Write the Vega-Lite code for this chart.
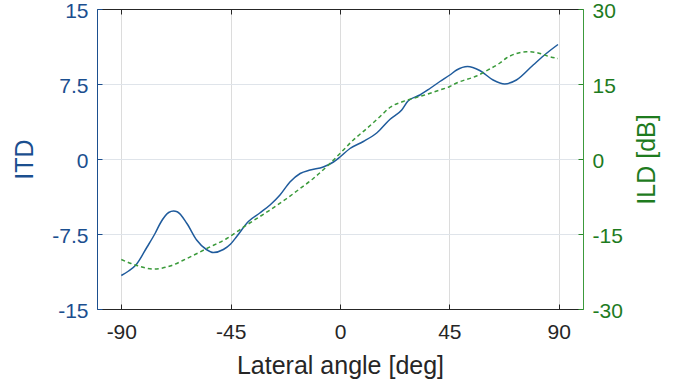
{
  "$schema": "https://vega.github.io/schema/vega-lite/v6.json",
  "width": 486,
  "height": 300,
  "autosize": {"type": "none"},
  "padding": {"left": 97, "top": 9, "right": 108, "bottom": 77},
  "background": "white",
  "config": {
    "view": {"stroke": null},
    "font": "Liberation Sans",
    "axis": {"labelFont": "Liberation Sans", "titleFont": "Liberation Sans", "titleFontWeight": "normal", "labelFontSize": 21, "titleFontSize": 25}
  },
  "datasets": {
    "itd": [
      {"angle": -90, "v": -11.65}, {"angle": -87, "v": -11.2}, {"angle": -84, "v": -10.6},
      {"angle": -79.4, "v": -8.8}, {"angle": -76, "v": -7.4}, {"angle": -73.9, "v": -6.4},
      {"angle": -70.5, "v": -5.35}, {"angle": -68.5, "v": -5.2}, {"angle": -67, "v": -5.27},
      {"angle": -63, "v": -6.45}, {"angle": -59, "v": -8.1}, {"angle": -55, "v": -9.05},
      {"angle": -52.1, "v": -9.35}, {"angle": -48, "v": -9.05}, {"angle": -45, "v": -8.5},
      {"angle": -42.5, "v": -7.75}, {"angle": -37.7, "v": -6.25}, {"angle": -33, "v": -5.4},
      {"angle": -28.8, "v": -4.6}, {"angle": -24.7, "v": -3.6}, {"angle": -20.6, "v": -2.3},
      {"angle": -16.4, "v": -1.45}, {"angle": -12.3, "v": -1.1}, {"angle": -6.9, "v": -0.8},
      {"angle": -2.7, "v": -0.3}, {"angle": 0, "v": 0.2}, {"angle": 4.1, "v": 1.05},
      {"angle": 9.6, "v": 1.75}, {"angle": 15.1, "v": 2.6}, {"angle": 20.5, "v": 3.95},
      {"angle": 25.4, "v": 4.9}, {"angle": 28, "v": 5.8}, {"angle": 32.9, "v": 6.4},
      {"angle": 37, "v": 7.05}, {"angle": 41.1, "v": 7.75}, {"angle": 45.2, "v": 8.4},
      {"angle": 48, "v": 8.9}, {"angle": 52.5, "v": 9.25}, {"angle": 57.5, "v": 8.85},
      {"angle": 63, "v": 7.9}, {"angle": 67.8, "v": 7.5}, {"angle": 72.6, "v": 7.9},
      {"angle": 79.5, "v": 9.4}, {"angle": 84.9, "v": 10.55}, {"angle": 89.7, "v": 11.45}
    ],
    "ild": [
      {"angle": -90, "v": -20.1}, {"angle": -86, "v": -20.9}, {"angle": -83.6, "v": -21.3},
      {"angle": -80, "v": -21.8}, {"angle": -76.7, "v": -22}, {"angle": -73, "v": -21.8},
      {"angle": -69.9, "v": -21.4}, {"angle": -63, "v": -19.9}, {"angle": -54.8, "v": -17.9},
      {"angle": -46.6, "v": -15.9}, {"angle": -38.4, "v": -13.2}, {"angle": -28.8, "v": -10.2},
      {"angle": -21.9, "v": -7.9}, {"angle": -16.4, "v": -5.9}, {"angle": -11, "v": -3.9},
      {"angle": -4.1, "v": -0.9}, {"angle": 0, "v": 1.1}, {"angle": 5.5, "v": 3.8},
      {"angle": 11, "v": 6.1}, {"angle": 16.4, "v": 8.45}, {"angle": 20.5, "v": 10.3},
      {"angle": 26, "v": 11.5}, {"angle": 30, "v": 12.1}, {"angle": 34.2, "v": 12.7},
      {"angle": 41.1, "v": 13.8}, {"angle": 45.2, "v": 14.5}, {"angle": 48, "v": 15.2},
      {"angle": 56.2, "v": 16.6}, {"angle": 61.6, "v": 18.0}, {"angle": 65.8, "v": 19.2},
      {"angle": 68.5, "v": 20.2}, {"angle": 72.6, "v": 21.1}, {"angle": 76.7, "v": 21.45},
      {"angle": 80.8, "v": 21.3}, {"angle": 83.6, "v": 20.9}, {"angle": 86, "v": 20.5},
      {"angle": 89.7, "v": 20.1}
    ]
  },
  "layer": [
    {
      "data": {"name": "itd"},
      "mark": {"type": "line", "color": "#1f5b9c", "strokeWidth": 1.5, "interpolate": "monotone"},
      "encoding": {
        "x": {
          "field": "angle", "type": "quantitative",
          "scale": {"domain": [-100, 100], "nice": false},
          "axis": {
            "orient": "bottom", "values": [-90, -45, 0, 45, 90], "title": "Lateral angle [deg]",
            "grid": true, "gridColor": "#dcdcdc", "tickSize": -5, "tickColor": "#262626",
            "domainColor": "#262626", "labelColor": "#262626", "titleColor": "#262626",
            "labelPadding": 17, "titlePadding": 11,
            "labelExpr": "datum.value < 0 ? '-' + format(-datum.value, '') : format(datum.value, '')"
          }
        },
        "y": {
          "field": "v", "type": "quantitative",
          "scale": {"domain": [-15, 15], "nice": false},
          "axis": {
            "orient": "left", "values": [-15, -7.5, 0, 7.5, 15], "title": "ITD",
            "grid": true, "gridColor": "#dfe4ea", "tickSize": -5, "tickColor": "#1b4f8f",
            "domainColor": "#1b4f8f", "labelColor": "#1b4f8f", "titleColor": "#1b4f8f",
            "labelPadding": 14, "titlePadding": 14, "labelOffset": 2,
            "labelExpr": "datum.value < 0 ? '-' + format(-datum.value, '') : format(datum.value, '')"
          }
        }
      }
    },
    {
      "data": {"name": "ild"},
      "mark": {"type": "line", "color": "#3a9a3a", "strokeWidth": 1.5, "strokeDash": [4, 3], "interpolate": "monotone"},
      "encoding": {
        "x": {
          "field": "angle", "type": "quantitative",
          "scale": {"domain": [-100, 100], "nice": false},
          "axis": {
            "orient": "top", "values": [-90, -45, 0, 45, 90], "title": null, "labels": false,
            "grid": false, "tickSize": -5, "tickColor": "#262626", "domainColor": "#262626"
          }
        },
        "y": {
          "field": "v", "type": "quantitative",
          "scale": {"domain": [-30, 30], "nice": false},
          "axis": {
            "orient": "right", "values": [-30, -15, 0, 15, 30], "title": "ILD [dB]", "titleAngle": 270,
            "titleBaseline": "top",
            "grid": false, "tickSize": -5, "tickColor": "#2a8a2a",
            "domainColor": "#3c9a3c", "labelColor": "#1e7b1e", "titleColor": "#1e7b1e",
            "labelPadding": 14, "titlePadding": 12, "labelOffset": 2,
            "labelExpr": "datum.value < 0 ? '-' + format(-datum.value, '') : format(datum.value, '')"
          }
        }
      }
    }
  ],
  "resolve": {"scale": {"y": "independent"}, "axis": {"x": "independent", "y": "independent"}}
}
